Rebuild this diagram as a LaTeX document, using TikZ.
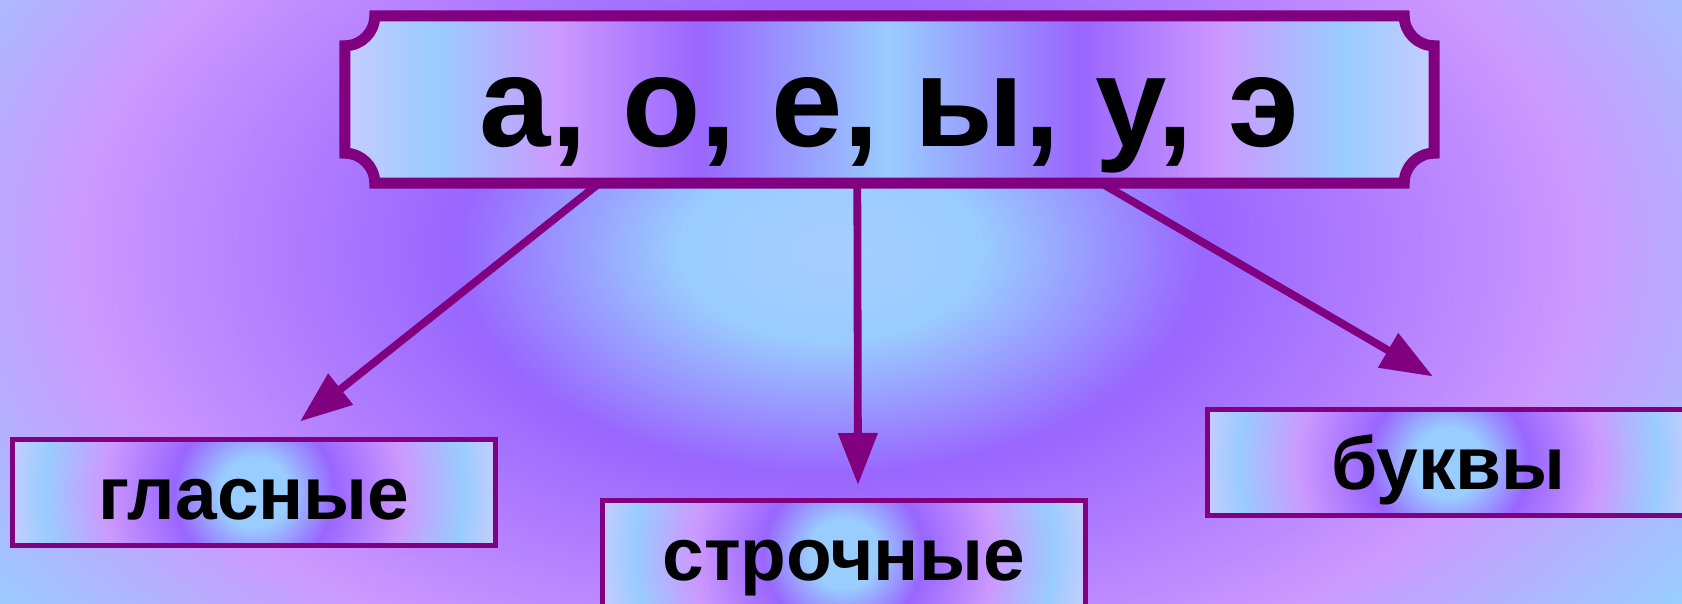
\documentclass[tikz,border=0pt]{standalone}
\usepackage{fontspec}
\setmainfont{Liberation Sans}
\usetikzlibrary{arrows.meta,calc,backgrounds}

\definecolor{myEdge}{RGB}{128,0,128}
\definecolor{mySky}{RGB}{153,204,255}
\definecolor{myPale}{RGB}{198,204,255}
\definecolor{myLilac}{RGB}{204,153,255}
\definecolor{myViolet}{RGB}{153,102,255}
\definecolor{myCentre}{RGB}{168,206,255}

\pgfdeclareradialshading{pageshade}{\pgfpointorigin}{color(0bp)=(myCentre); color(3.6bp)=(mySky); color(8.9bp)=(myViolet); color(17.9bp)=(myLilac); color(24.4bp)=(mySky); color(50bp)=(mySky)}
\pgfdeclarehorizontalshading{vowelshade}{100bp}{color(0bp)=(myPale); color(25bp)=(myPale); color(29.25bp)=(mySky); color(34.75bp)=(myLilac); color(41.25bp)=(myViolet); color(50bp)=(mySky); color(58.75bp)=(myViolet); color(65.25bp)=(myLilac); color(70.75bp)=(mySky); color(75bp)=(myPale); color(100bp)=(myPale)}
\pgfdeclareradialshading{wordshade}{\pgfpointorigin}{color(0bp)=(mySky); color(3.5bp)=(mySky); color(8bp)=(myViolet); color(15bp)=(myLilac); color(21bp)=(mySky); color(24.5bp)=(myPale); color(50bp)=(myPale)}

\begin{document}
\begin{tikzpicture}[
    wordbox/.style={draw=myEdge, line width=0.05cm, inner sep=0pt,
      minimum width=4.83cm, minimum height=1.06cm,
      text height=0.75cm, text depth=0.2cm,
      font=\fontsize{21.3}{24}\selectfont\bfseries,
      path picture={\shade[shading=wordshade]
        ($(path picture bounding box.center)+(-2.5,-2.5)$) rectangle ++(5,5);}},
    link/.style={myEdge, line width=0.078cm,
      -{Triangle[length=0.52cm, width=0.38cm]}}]

    \useasboundingbox (0,0) rectangle (16.82,6.04);

    \node[inner sep=0pt, minimum width=10.88cm, minimum height=1.66cm,
        text height=1.1cm, text depth=0.15cm,
        font=\fontsize{36.5}{40}\selectfont\bfseries]
        (vow) at (8.895,5.045) {а, о, е, ы, у, э};

    \node[wordbox] (glas) at (2.54,1.115) {гласные};
    \node[wordbox] (stro) at (8.435,0.505) {строчные};
    \node[wordbox] (bukv) at (14.485,1.415) {буквы};

    \draw[link] ($(vow.south west)+(2.545,0)$) -- ($(glas.north)+(0.46,0.155)$);
    \draw[link] ($(vow.south west)+(5.125,0)$) -- ($(stro.north)+(0.145,0.13)$);
    \draw[link] ($(vow.south west)+(7.565,0)$) -- ($(bukv.north)+(-0.155,0.305)$);

    % background and the plaque behind the vowels
    \begin{scope}[on background layer]
        \clip (0,0) rectangle (16.82,6.04);
        \shade[shading=pageshade] (-2.2,-2.76) rectangle (18.8,9.84);
        \def\notch{0.3}
        \shade[shading=vowelshade, draw=myEdge, line width=0.11cm]
            ($(vow.north west)+(0,-\notch)$) arc[start angle=270, end angle=360, radius=\notch]
            -- ($(vow.north east)+(-\notch,0)$) arc[start angle=180, end angle=270, radius=\notch]
            -- ($(vow.south east)+(0,\notch)$) arc[start angle=90, end angle=180, radius=\notch]
            -- ($(vow.south west)+(\notch,0)$) arc[start angle=0, end angle=90, radius=\notch]
            -- cycle;
    \end{scope}
\end{tikzpicture}
\end{document}
